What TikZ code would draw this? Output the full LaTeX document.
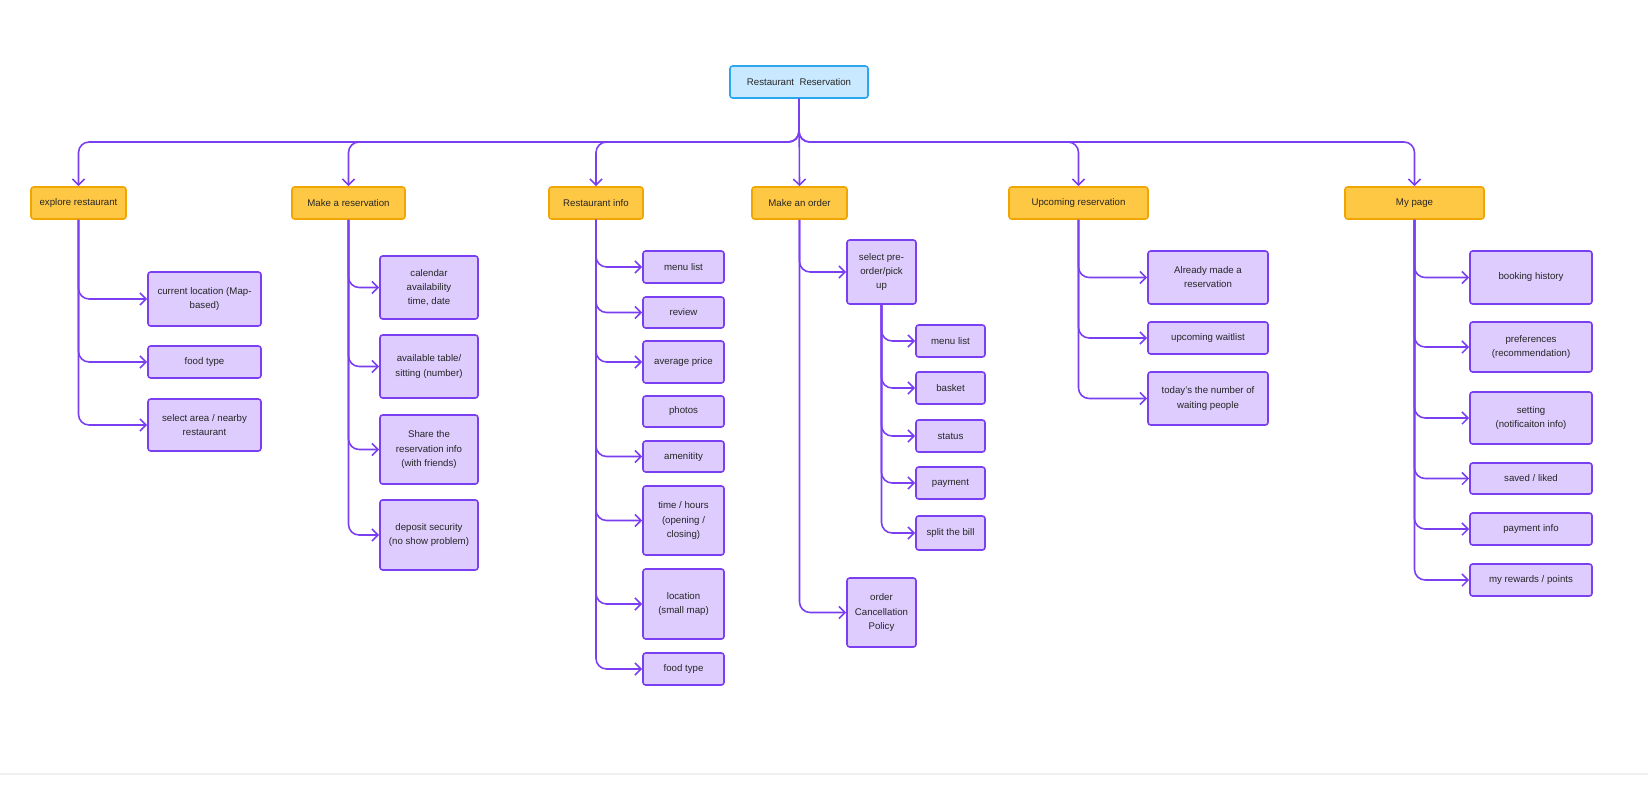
\documentclass[tikz,border=0pt]{standalone}
\usepackage{fontspec}
\setmainfont{Liberation Sans}
\usetikzlibrary{arrows.meta}

\definecolor{linkpurple}{HTML}{7B3FF2}
\definecolor{leaffill}{HTML}{DDCCFD}
\definecolor{catfill}{HTML}{FFC844}
\definecolor{catline}{HTML}{F0A500}
\definecolor{rootfill}{HTML}{C8E9FF}
\definecolor{rootline}{HTML}{2AA7F0}

\tikzset{
  w/.style={minimum width=#1*0.02cm},
  h/.style={minimum height=#1*0.02cm},
  box/.style={draw, line width=0.9pt, rounded corners=1.5pt, align=center,
    inner sep=1pt, font=\fontsize{5.5}{8}\selectfont, text=black!85},
  root/.style={box, fill=rootfill, draw=rootline},
  cat/.style={box, fill=catfill, draw=catline},
  leaf/.style={box, fill=leaffill, draw=linkpurple},
  conn/.style={draw=linkpurple, line width=0.9pt, rounded corners=6pt,
    -{Straight Barb[length=3.5pt, width=7pt]}}
}

\begin{document}
\begin{tikzpicture}[x=0.02cm, y=-0.02cm]
    \useasboundingbox (0,0) rectangle (1648,790);
    \draw[black!6, line width=1pt] (0,774) -- (1648,774);

    % top and categories
    \node[root, w=138, h=32] (root) at (799,82) {Restaurant\ \ Reservation};
    \coordinate (bus) at (799,142);
    \node[cat, w=95, h=32] (explore) at (78.5,203) {explore restaurant};
    \node[cat, w=113, h=32] (booking) at (348.5,203) {Make a reservation};
    \node[cat, w=94, h=32] (info) at (596,203) {Restaurant info};
    \node[cat, w=95, h=32] (order) at (799.5,203) {Make an order};
    \node[cat, w=139, h=32] (upcoming) at (1078.5,203) {Upcoming reservation};
    \node[cat, w=139, h=32] (mypage) at (1414.5,203) {My page};

    \foreach \c in {explore, booking, info, upcoming, mypage}
        \draw[conn] (root.south) -- (bus) -| (\c.north);
    \draw[conn] (root.south) -- (order.north);

    % explore restaurant
    \node[leaf, w=113, h=54] (ex1) at (204.5,299) {current location (Map-\\based)};
    \node[leaf, w=113, h=32] (ex2) at (204.5,362) {food type};
    \node[leaf, w=113, h=52] (ex3) at (204.5,425) {select area / nearby\\restaurant};
    \foreach \c in {ex1, ex2, ex3}
        \draw[conn] (explore.south) |- (\c.west);

    % make a reservation
    \node[leaf, w=98, h=63] (re1) at (429,287.5) {calendar\\availability\\time, date};
    \node[leaf, w=98, h=63] (re2) at (429,366.5) {available table/\\sitting (number)};
    \node[leaf, w=98, h=69] (re3) at (429,449.5) {Share the\\reservation info\\(with friends)};
    \node[leaf, w=98, h=70] (re4) at (429,535) {deposit security\\(no show problem)};
    \foreach \c in {re1, re2, re3, re4}
        \draw[conn] (booking.south) |- (\c.west);

    % restaurant info
    \node[leaf, w=81, h=32] (in1) at (683.5,267) {menu list};
    \node[leaf, w=81, h=31] (in2) at (683.5,312.5) {review};
    \node[leaf, w=81, h=42] (in3) at (683.5,362) {average price};
    \node[leaf, w=81, h=31] (in4) at (683.5,411.5) {photos};
    \node[leaf, w=81, h=31] (in5) at (683.5,456.5) {amenitity};
    \node[leaf, w=81, h=69] (in6) at (683.5,520.5) {time / hours\\(opening /\\closing)};
    \node[leaf, w=81, h=70] (in7) at (683.5,604) {location\\(small map)};
    \node[leaf, w=81, h=32] (in8) at (683.5,669) {food type};
    \foreach \c in {in1, in2, in3, in5, in6, in7, in8}
        \draw[conn] (info.south) |- (\c.west);

    % make an order
    \node[leaf, w=69, h=64] (or1) at (881.5,272) {select pre-\\order/pick\\up};
    \node[leaf, w=69, h=69] (or2) at (881.5,612.5) {order\\Cancellation\\Policy};
    \foreach \c in {or1, or2}
        \draw[conn] (order.south) |- (\c.west);
    \node[leaf, w=69, h=32] (pre1) at (950.5,341) {menu list};
    \node[leaf, w=69, h=32] (pre2) at (950.5,388) {basket};
    \node[leaf, w=69, h=32] (pre3) at (950.5,436) {status};
    \node[leaf, w=69, h=32] (pre4) at (950.5,483) {payment};
    \node[leaf, w=69, h=34] (pre5) at (950.5,533) {split the bill};
    \foreach \c in {pre1, pre2, pre3, pre4, pre5}
        \draw[conn] (or1.south) |- (\c.west);

    % upcoming reservation
    \node[leaf, w=120, h=53] (up1) at (1208,277.5) {Already made a\\reservation};
    \node[leaf, w=120, h=32] (up2) at (1208,338) {upcoming waitlist};
    \node[leaf, w=120, h=53] (up3) at (1208,398.5) {today's the number of\\waiting people};
    \foreach \c in {up1, up2, up3}
        \draw[conn] (upcoming.south) |- (\c.west);

    % my page
    \node[leaf, w=122, h=53] (my1) at (1531,277.5) {booking history};
    \node[leaf, w=122, h=50] (my2) at (1531,347) {preferences\\(recommendation)};
    \node[leaf, w=122, h=52] (my3) at (1531,418) {setting\\(notificaiton info)};
    \node[leaf, w=122, h=31] (my4) at (1531,478.5) {saved / liked};
    \node[leaf, w=122, h=32] (my5) at (1531,529) {payment info};
    \node[leaf, w=122, h=32] (my6) at (1531,580) {my rewards / points};
    \foreach \c in {my1, my2, my3, my4, my5, my6}
        \draw[conn] (mypage.south) |- (\c.west);

\end{tikzpicture}
\end{document}
